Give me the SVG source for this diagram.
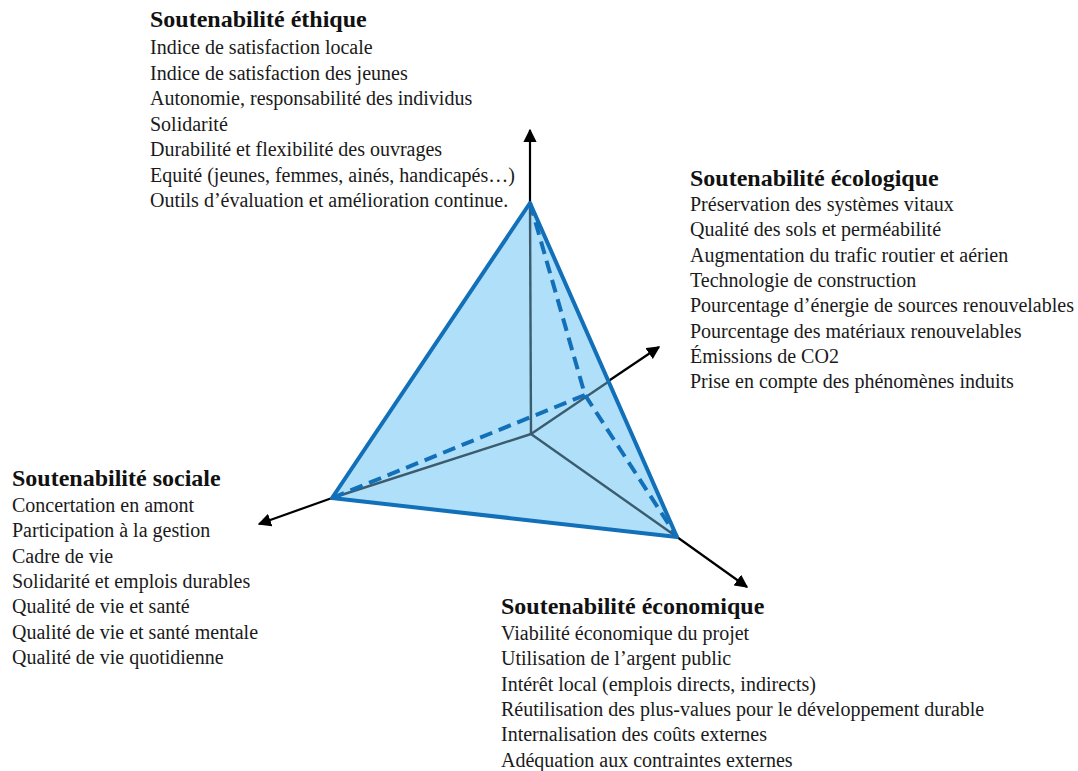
<svg xmlns="http://www.w3.org/2000/svg" width="1078" height="771" viewBox="0 0 1078 771">
<style>
.t{font-family:"Liberation Serif","Times New Roman",serif;font-size:24px;font-weight:bold;fill:#111}
.b{font-family:"Liberation Serif","Times New Roman",serif;font-size:20px;fill:#1a1a1a}
.ax{stroke:#000;stroke-width:2.2;fill:none;marker-end:url(#ah)}
.in{stroke:#3a5c6e;stroke-width:2.4;fill:none}
.edge{stroke:#1270b9;stroke-width:4;fill:none;stroke-linejoin:round}
.dash{stroke:#1270b9;stroke-width:4;fill:none;stroke-dasharray:13 7}
</style>
<defs>
<marker id="ah" viewBox="0 0 10 10" refX="9" refY="5" markerWidth="6" markerHeight="6" orient="auto" markerUnits="strokeWidth">
<path d="M0,0 L10,5 L0,10 z" fill="#000"/>
</marker>
</defs>
<rect width="1078" height="771" fill="#fff"/>
<g id="connectors">
<line class="ax" x1="530" y1="203" x2="530" y2="130"/>
<line class="ax" x1="607" y1="382" x2="659" y2="347"/>
<line class="ax" x1="332" y1="498" x2="259" y2="524"/>
<line class="ax" x1="677" y1="537" x2="747" y2="587"/>
</g>
<g id="tetrahedron">
<polygon points="530,203 332,498 677,537" fill="#b0dff9"/>
<line class="in" x1="531" y1="434" x2="530" y2="203"/>
<line class="in" x1="531" y1="434" x2="332" y2="498"/>
<line class="in" x1="531" y1="434" x2="677" y2="537"/>
<line class="in" x1="531" y1="434" x2="608" y2="382"/>
<polyline class="dash" points="530,203 585,395 677,537"/>
<line class="dash" x1="332" y1="498" x2="585" y2="395"/>
<polygon class="edge" points="530,203 332,498 677,537"/>
</g>
<g id="ethique">
<text class="t" x="150" y="27">Soutenabilité éthique</text>
<text class="b" x="150" y="54">Indice de satisfaction locale</text>
<text class="b" x="150" y="80">Indice de satisfaction des jeunes</text>
<text class="b" x="150" y="105">Autonomie, responsabilité des individus</text>
<text class="b" x="150" y="131">Solidarité</text>
<text class="b" x="150" y="156">Durabilité et flexibilité des ouvrages</text>
<text class="b" x="150" y="182">Equité (jeunes, femmes, ainés, handicapés…)</text>
<text class="b" x="150" y="207">Outils d’évaluation et amélioration continue.</text>
</g>
<g id="ecologique">
<text class="t" x="690" y="186">Soutenabilité écologique</text>
<text class="b" x="690" y="211">Préservation des systèmes vitaux</text>
<text class="b" x="690" y="236">Qualité des sols et perméabilité</text>
<text class="b" x="690" y="262">Augmentation du trafic routier et aérien</text>
<text class="b" x="690" y="287">Technologie de construction</text>
<text class="b" x="690" y="312">Pourcentage d’énergie de sources renouvelables</text>
<text class="b" x="690" y="338">Pourcentage des matériaux renouvelables</text>
<text class="b" x="690" y="363">Émissions de CO2</text>
<text class="b" x="690" y="388">Prise en compte des phénomènes induits</text>
</g>
<g id="sociale">
<text class="t" x="12" y="486">Soutenabilité sociale</text>
<text class="b" x="12" y="512">Concertation en amont</text>
<text class="b" x="12" y="537">Participation à la gestion</text>
<text class="b" x="12" y="563">Cadre de vie</text>
<text class="b" x="12" y="588">Solidarité et emplois durables</text>
<text class="b" x="12" y="613">Qualité de vie et santé</text>
<text class="b" x="12" y="639">Qualité de vie et santé mentale</text>
<text class="b" x="12" y="664">Qualité de vie quotidienne</text>
</g>
<g id="economique">
<text class="t" x="501" y="614">Soutenabilité économique</text>
<text class="b" x="501" y="640">Viabilité économique du projet</text>
<text class="b" x="501" y="665">Utilisation de l’argent public</text>
<text class="b" x="501" y="691">Intérêt local (emplois directs, indirects)</text>
<text class="b" x="501" y="716">Réutilisation des plus-values pour le développement durable</text>
<text class="b" x="501" y="741">Internalisation des coûts externes</text>
<text class="b" x="501" y="767">Adéquation aux contraintes externes</text>
</g>
</svg>
